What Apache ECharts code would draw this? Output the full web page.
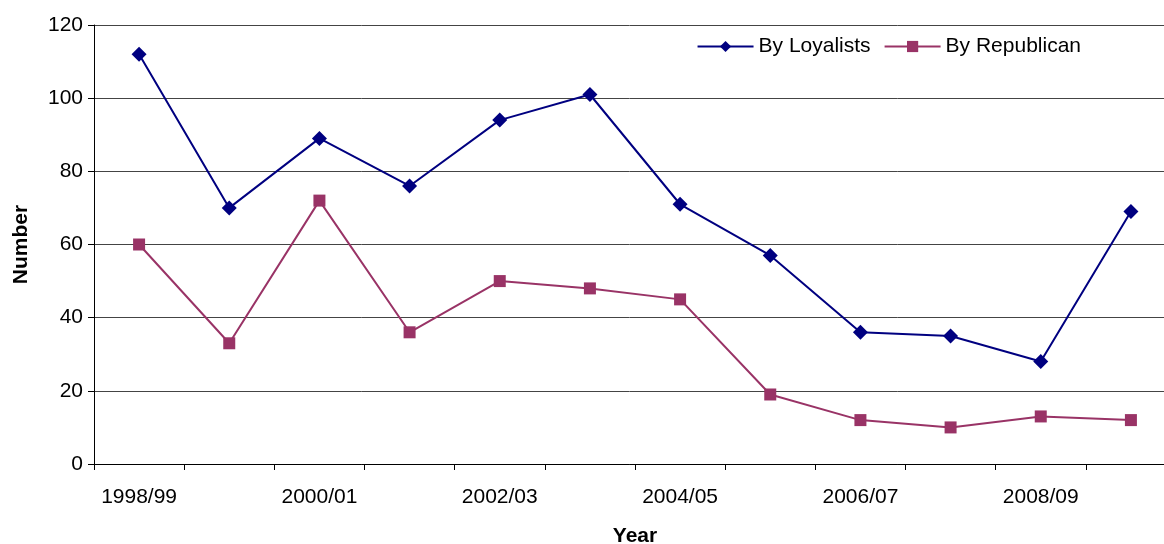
<!DOCTYPE html>
<html>
<head>
<meta charset="utf-8">
<script src="https://cdn.jsdelivr.net/npm/echarts@6/dist/echarts.min.js"></script>
<style>html,body{margin:0;padding:0;background:#fff;}#c{width:1164px;height:544px;}</style>
</head>
<body>
<div id="c"></div>
<script>
const categories = ['1998/99','1999/00','2000/01','2001/02','2002/03','2003/04','2004/05','2005/06','2006/07','2007/08','2008/09','2009/10'];
const loyalists = [112, 70, 89, 76, 94, 101, 71, 57, 36, 35, 28, 69];
const republican = [60, 33, 72, 36, 50, 48, 45, 19, 12, 10, 13, 12];
const yTicks = [0, 20, 40, 60, 80, 100, 120];

const chart = echarts.init(document.getElementById('c'), null, {renderer: 'canvas'});
const font = 'Liberation Sans, Arial, sans-serif';
chart.setOption({
  animation: false,
  backgroundColor: '#fff',
  textStyle: {fontFamily: font},
  grid: {left: 94, right: -12, top: 25, bottom: 80, containLabel: false, outerBoundsMode: 'none'},
  legend: {
    right: 78, top: 31, itemWidth: 56, itemHeight: 14, itemGap: 13,
    textStyle: {fontFamily: font, fontSize: 21, color: '#000'},
    data: ['By Loyalists', 'By Republican']
  },
  xAxis: {
    type: 'category', data: categories, boundaryGap: true,
    name: 'Year', nameLocation: 'middle', nameGap: 62,
    nameTextStyle: {fontFamily: font, fontSize: 21, fontWeight: 'bold', color: '#000'},
    axisLine: {lineStyle: {color: '#000', width: 1}},
    axisTick: {show: true, interval: 0, length: 6, alignWithLabel: false, lineStyle: {color: '#000'}},
    axisLabel: {interval: 1, margin: 23, fontFamily: font, fontSize: 21, color: '#000'},
    splitLine: {show: false}
  },
  yAxis: {
    type: 'value', min: yTicks[0], max: yTicks[yTicks.length - 1], interval: 20,
    name: 'Number', nameLocation: 'middle', nameGap: 62, nameRotate: 90,
    nameTextStyle: {fontFamily: font, fontSize: 21, fontWeight: 'bold', color: '#000'},
    axisLine: {show: true, lineStyle: {color: '#000', width: 1}},
    axisTick: {show: true, length: 6, lineStyle: {color: '#000'}},
    axisLabel: {margin: 11, fontFamily: font, fontSize: 21, color: '#000'},
    splitLine: {show: true, lineStyle: {color: '#444', width: 1}}
  },
  series: [
    {
      name: 'By Loyalists', type: 'line', data: loyalists,
      symbol: 'diamond', symbolSize: 15,
      lineStyle: {color: '#000080', width: 2},
      itemStyle: {color: '#000080'}
    },
    {
      name: 'By Republican', type: 'line', data: republican,
      symbol: 'rect', symbolSize: 12,
      lineStyle: {color: '#993366', width: 2},
      itemStyle: {color: '#993366'}
    }
  ]
});
</script>
</body>
</html>
